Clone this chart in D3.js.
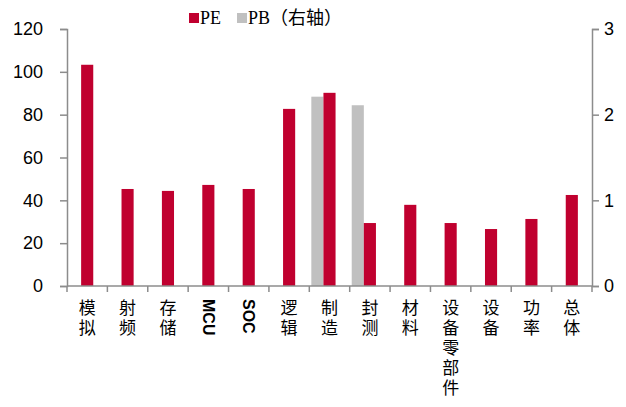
<!DOCTYPE html>
<html>
<head>
<meta charset="utf-8">
<script src="https://cdn.jsdelivr.net/npm/d3@7"></script>
<style>
  body { margin: 0; background: #fff; }
  svg { display: block; }
</style>
</head>
<body>
<script>
// Chart data
const categories = ['模拟', '射频', '存储', 'MCU', 'SOC', '逻辑', '制造', '封测', '材料', '设备零部件', '设备', '功率', '总体'];
const peValues = [103.3, 45.3, 44.4, 47.2, 45.3, 82.7, 90.2, 29.4, 37.9, 29.4, 26.6, 31.3, 42.5];
const pbValues = [null, null, null, null, null, null, 2.21, 2.11, null, null, null, null, null];
const leftTicks = [0, 20, 40, 60, 80, 100, 120];
const rightTicks = [0, 1, 2, 3];

const width = 626, height = 407;
const margin = {top: 29, right: 34, bottom: 121, left: 67};
const red = '#c0002f', grey = '#c0c0c0', axisColor = '#8c8c8c';

const svg = d3.select('body').append('svg')
  .attr('width', width)
  .attr('height', height);

const x = d3.scaleBand()
  .domain(categories)
  .range([margin.left, width - margin.right]);

const yLeft = d3.scaleLinear()
  .domain([0, 120])
  .range([height - margin.bottom, margin.top]);

const yRight = d3.scaleLinear()
  .domain([0, 3])
  .range([height - margin.bottom, margin.top]);

const barW = x.bandwidth() * 0.3;
const baseY = height - margin.bottom;

// Bars ---------------------------
svg.append('g')
  .selectAll('rect')
  .data(categories.map((c, i) => ({c, v: pbValues[i]})).filter(d => d.v != null))
  .enter().append('rect')
  .attr('fill', grey)
  .attr('x', d => x(d.c) + x.bandwidth() / 2 - barW * 1.5)
  .attr('y', d => yRight(d.v))
  .attr('width', barW)
  .attr('height', d => baseY - yRight(d.v));

svg.append('g')
  .selectAll('rect')
  .data(categories.map((c, i) => ({c, v: peValues[i]})))
  .enter().append('rect')
  .attr('fill', red)
  .attr('x', d => x(d.c) + x.bandwidth() / 2 - barW / 2)
  .attr('y', d => yLeft(d.v))
  .attr('width', barW)
  .attr('height', d => baseY - yLeft(d.v));

// Axes ---------------------------
const styleAxis = g => {
  g.select('.domain').attr('stroke', axisColor).attr('stroke-width', 1.5);
  g.selectAll('.tick line').attr('stroke', axisColor).attr('stroke-width', 1.5);
  g.selectAll('.tick text')
    .attr('fill', '#000')
    .style('font-family', 'Liberation Sans, Arial, sans-serif')
    .style('font-size', '18px');
};

svg.append('g')
  .attr('transform', `translate(${margin.left},0)`)
  .call(d3.axisLeft(yLeft).tickValues(leftTicks).tickSize(7).tickSizeOuter(7).tickPadding(17))
  .call(styleAxis);

svg.append('g')
  .attr('transform', `translate(${width - margin.right},0)`)
  .call(d3.axisRight(yRight).tickValues(rightTicks).tickFormat(d3.format('d')).tickSize(7).tickSizeOuter(7).tickPadding(5))
  .call(styleAxis);

// x axis: ticks at category boundaries
const xAxis = svg.append('g');
xAxis.append('line')
  .attr('x1', margin.left).attr('x2', width - margin.right)
  .attr('y1', baseY).attr('y2', baseY)
  .attr('stroke', axisColor).attr('stroke-width', 1.5);
xAxis.selectAll('.xt')
  .data(categories.concat(['_end']))
  .enter().append('line')
  .attr('x1', (d, i) => margin.left + i * x.step())
  .attr('x2', (d, i) => margin.left + i * x.step())
  .attr('y1', baseY).attr('y2', baseY + 6)
  .attr('stroke', axisColor).attr('stroke-width', 1.5);

// Category labels, written top to bottom
svg.append('g')
  .selectAll('text')
  .data(categories)
  .enter().append('text')
  .attr('x', d => x(d) + x.bandwidth() / 2)
  .attr('y', 299)
  .style('writing-mode', 'vertical-rl')
  .style('font-family', d => /^[A-Za-z]+$/.test(d) ? 'Liberation Sans, Arial, sans-serif' : 'Noto Sans CJK SC, sans-serif')
  .style('font-weight', d => /^[A-Za-z]+$/.test(d) ? 'bold' : 'normal')
  .style('font-size', d => /^[A-Za-z]+$/.test(d) ? '16px' : '17px')
  .style('letter-spacing', d => /^[A-Za-z]+$/.test(d) ? '0px' : '3px')
  .text(d => d);

// Legend -------------------------
const legend = svg.append('g').style('font-family', 'Liberation Serif, Times New Roman, Noto Sans CJK SC, serif').style('font-size', '18px');
legend.append('rect').attr('x', 189).attr('y', 13).attr('width', 10).attr('height', 10).attr('fill', red);
legend.append('text').attr('x', 200).attr('y', 24).text('PE');
legend.append('rect').attr('x', 237).attr('y', 13).attr('width', 10).attr('height', 10).attr('fill', grey);
legend.append('text').attr('x', 248).attr('y', 24).text('PB（右轴）');
</script>
</body>
</html>
